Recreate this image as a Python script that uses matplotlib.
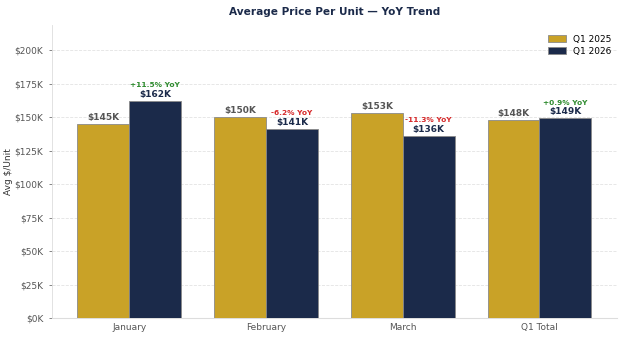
import numpy as np
import matplotlib
matplotlib.use("Agg")
import matplotlib.pyplot as plt
from matplotlib.ticker import FuncFormatter

categories = ["January", "February", "March", "Q1 Total"]
q1_2025 = [145, 150, 153, 148]
q1_2026 = [162, 141, 136, 149]
yoy = [11.5, -6.2, -11.3, 0.9]

gold = "#C9A227"
navy = "#1B2A4A"

fig = plt.figure(figsize=(6.24, 3.39), dpi=100)
ax = fig.add_axes([0.083, 0.062, 0.906, 0.864])

x = np.arange(len(categories))
w = 0.38
ax.bar(x - w / 2, q1_2025, w, color=gold, edgecolor="#8a8a8a", linewidth=0.6, label="Q1 2025", zorder=3)
ax.bar(x + w / 2, q1_2026, w, color=navy, edgecolor="#8a8a8a", linewidth=0.6, label="Q1 2026", zorder=3)

for xi, v in zip(x - w / 2, q1_2025):
    ax.text(xi, v + 1.5, f"${v}K", ha="center", va="bottom", fontsize=6.5,
            fontweight="bold", color="#555555")
for xi, v, p in zip(x + w / 2, q1_2026, yoy):
    ax.text(xi, v + 1.5, f"${v}K", ha="center", va="bottom", fontsize=6.5,
            fontweight="bold", color=navy)
    c = "#2e8b2e" if p >= 0 else "#d62728"
    ax.text(xi, v + 9.5, f"{p:+.1f}% YoY", ha="center", va="bottom", fontsize=5.3,
            fontweight="bold", color=c)

ax.set_ylim(0, max(q1_2026) * 1.35)
ax.set_yticks(np.arange(0, 201, 25))
ax.yaxis.set_major_formatter(FuncFormatter(lambda v, _: f"${v:.0f}K"))
ax.set_xticks(x)
ax.set_xticklabels(categories)
ax.tick_params(axis="both", labelsize=6.5, colors="#555555", length=2.5, width=0.5)
ax.tick_params(axis="x", length=0)
ax.set_ylabel("Avg $/Unit", fontsize=6.5, color="#333333", labelpad=1)
ax.set_title("Average Price Per Unit \u2014 YoY Trend", fontsize=7.6, fontweight="bold",
             color=navy, pad=7)

ax.grid(axis="y", linestyle="--", color="#e3e3e3", linewidth=0.6, zorder=0)
ax.set_axisbelow(True)
for s in ["top", "right"]:
    ax.spines[s].set_visible(False)
ax.spines["left"].set_color("#dddddd")
ax.spines["bottom"].set_color("#dddddd")
ax.spines["left"].set_linewidth(0.6)
ax.spines["bottom"].set_linewidth(0.8)

ax.legend(loc="upper right", bbox_to_anchor=(1.0, 0.985), frameon=False, fontsize=6.5,
          handlelength=2.0, handleheight=0.8, borderaxespad=0.2, labelspacing=0.35)

fig.savefig("out.png", dpi=100)
